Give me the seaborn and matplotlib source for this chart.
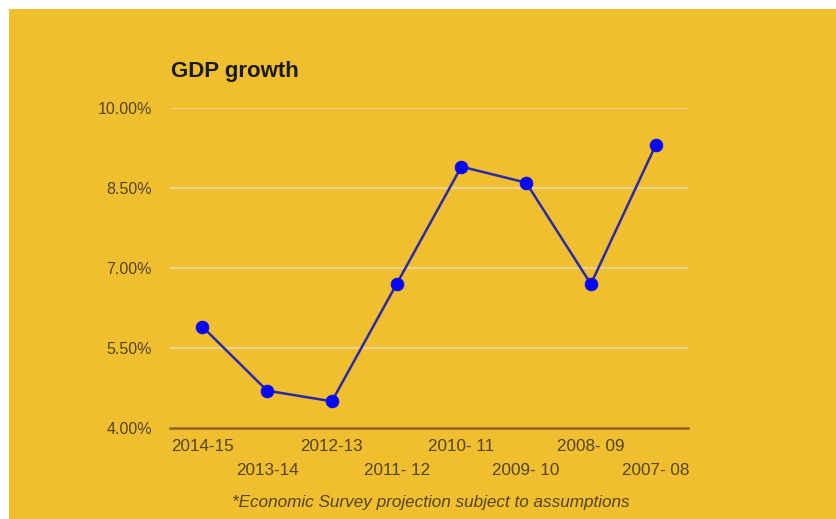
import matplotlib
matplotlib.use("Agg")
import matplotlib.pyplot as plt
import seaborn as sns
import pandas as pd
from matplotlib.patches import Rectangle

years = ["2014-15", "2013-14", "2012-13", "2011- 12", "2010- 11", "2009- 10", "2008- 09", "2007- 08"]
growth = [5.9, 4.7, 4.5, 6.7, 8.9, 8.6, 6.7, 9.3]
yticks = [4.0, 5.5, 7.0, 8.5, 10.0]
title = "GDP growth"
note = "*Economic Survey projection subject to assumptions"

BG = "#F0BF30"
TXT = "#54441c"

sns.set_theme(style="white")
plt.rcParams["font.family"] = ["Liberation Sans", "DejaVu Sans"]

W, H = 836, 519
fig = plt.figure(figsize=(W / 100, H / 100), dpi=100)
fig.patch.set_facecolor(BG)
fig.patches.append(Rectangle((0, 1 - 9 / H), 1, 9 / H, transform=fig.transFigure,
                             facecolor="white", edgecolor="none", zorder=-10))
fig.patches.append(Rectangle((0, 0), 9 / W, 1, transform=fig.transFigure,
                             facecolor="white", edgecolor="none", zorder=-10))

ax = fig.add_axes([170 / W, (H - 428) / H, 518 / W, 320 / H])
ax.set_facecolor(BG)
ax.patch.set_alpha(0)

df = pd.DataFrame({"year": years, "growth": growth})
sns.lineplot(data=df, x="year", y="growth", ax=ax, color="#2a2aa8", linewidth=1.8,
             marker="o", markersize=9, markerfacecolor="#0808f0", markeredgecolor="#0808f0",
             sort=False, zorder=3)

ax.set_xlim(-0.5, len(years) - 0.5)
ax.set_ylim(4.0, 10.0)
ax.set_yticks(yticks)
ax.set_yticklabels([f"{v:.2f}%" for v in yticks], fontsize=11.5, color=TXT)
ax.set_xticks(range(len(years)))
ax.set_xticklabels(years, fontsize=12.3, color=TXT)
ax.set_xlabel("")
ax.set_ylabel("")
ax.grid(axis="y", color="#ead6a4", linewidth=1.2)
ax.grid(axis="x", visible=False)
for s in ["top", "right", "left"]:
    ax.spines[s].set_visible(False)
ax.spines["bottom"].set_color("#8a6418")
ax.spines["bottom"].set_linewidth(1.8)
ax.spines["bottom"].set_zorder(4)
ax.tick_params(axis="y", length=0, pad=13)
ax.tick_params(axis="x", length=0)
for i, t in enumerate(ax.xaxis.get_major_ticks()):
    t.set_pad(8 if i % 2 == 0 else 25)

fig.text(171 / W, 1 - 72 / H, title, fontsize=16, fontweight="bold", color="#1a1a1a",
         va="center", ha="left")
fig.text(431 / W, 1 - 502 / H, note, fontsize=12.3, style="italic", color=TXT,
         va="center", ha="center")

fig.savefig("out.png", dpi=100, facecolor=fig.get_facecolor())
